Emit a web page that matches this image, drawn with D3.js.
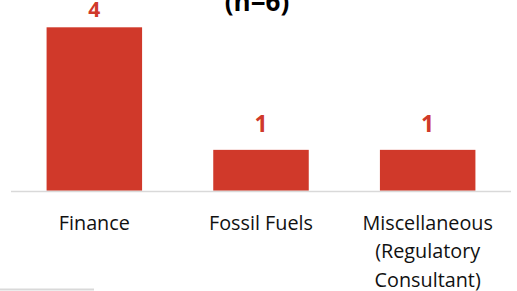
<!DOCTYPE html>
<html>
<head>
<meta charset="utf-8">
<script src="https://cdn.jsdelivr.net/npm/d3@7"></script>
<style>
  html, body { margin: 0; padding: 0; background: #fff; }
  svg { display: block; font-family: "Open Sans", "Noto Sans", sans-serif; }
</style>
</head>
<body>
<svg id="chart" width="517" height="291"></svg>
<script>
const categories = ['Finance', 'Fossil Fuels', 'Miscellaneous (Regulatory Consultant)'];
const labelLines = [['Finance'], ['Fossil Fuels'], ['Miscellaneous', '(Regulatory', 'Consultant)']];
const counts = [4, 1, 1];
const title = '(n=6)';

const svg = d3.select('#chart');
const red = '#d0392a';

const x = d3.scaleBand()
  .domain(categories)
  .range([11, 511])
  .paddingInner(0.427)
  .paddingOuter(0.2135);

const y = d3.scaleLinear()
  .domain([0, 4])
  .range([190.7, 27.3]);

// title, mostly cut off by the top edge
svg.append('text')
  .attr('x', 257)
  .attr('y', 10.5)
  .attr('text-anchor', 'middle')
  .attr('font-size', 26)
  .attr('font-weight', 'bold')
  .attr('fill', '#000')
  .text(title);

svg.selectAll('rect.bar')
  .data(counts)
  .join('rect')
  .attr('class', 'bar')
  .attr('x', (d, i) => x(categories[i]))
  .attr('y', d => y(d))
  .attr('width', x.bandwidth())
  .attr('height', d => y(0) - y(d))
  .attr('fill', red);

// baseline
svg.append('line')
  .attr('x1', 11).attr('x2', 511)
  .attr('y1', 191.5).attr('y2', 191.5)
  .attr('stroke', '#d9d9d9')
  .attr('stroke-width', 1.5);

// value labels; the tallest one is pushed down to stay inside the frame
svg.selectAll('text.val')
  .data(counts)
  .join('text')
  .attr('class', 'val')
  .attr('x', (d, i) => x(categories[i]) + x.bandwidth() / 2)
  .attr('y', d => Math.max(y(d) - 18, 17))
  .attr('text-anchor', 'middle')
  .attr('font-size', d => y(d) - 18 < 17 ? 21 : 23)
  .attr('font-weight', 'bold')
  .attr('fill', red)
  .text(d => d);

const cat = svg.selectAll('text.cat')
  .data(labelLines)
  .join('text')
  .attr('class', 'cat')
  .attr('text-anchor', 'middle')
  .attr('font-size', 19.8)
  .attr('fill', '#111');

cat.each(function(lines, i) {
  d3.select(this).selectAll('tspan')
    .data(lines)
    .join('tspan')
    .attr('x', x(categories[i]) + x.bandwidth() / 2)
    .attr('y', (l, j) => 229.5 + j * 28.5)
    .text(l => l);
});

// stray separator at bottom left
svg.append('line')
  .attr('x1', 0).attr('x2', 94)
  .attr('y1', 289.5).attr('y2', 289.5)
  .attr('stroke', '#d9d9d9')
  .attr('stroke-width', 2);
</script>
</body>
</html>
